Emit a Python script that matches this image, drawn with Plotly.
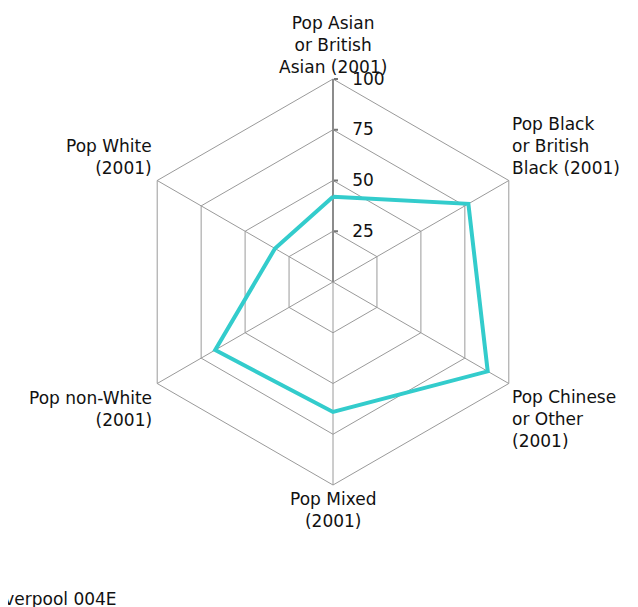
import math
import plotly.graph_objects as go

# ---- data ----
categories = [
    "Pop Asian or British Asian (2001)",
    "Pop Black or British Black (2001)",
    "Pop Chinese or Other (2001)",
    "Pop Mixed (2001)",
    "Pop non-White (2001)",
    "Pop White (2001)",
]
category_labels = [
    "Pop Asian<br>or British<br>Asian (2001)",
    "Pop Black<br>or British<br>Black (2001)",
    "Pop Chinese<br>or Other<br>(2001)",
    "Pop Mixed<br>(2001)",
    "Pop non-White<br>(2001)",
    "Pop White<br>(2001)",
]
series_name = "Liverpool 004E"
series_values = [42, 77, 88, 64, 67, 33]
radial_ticks = [25, 50, 75, 100]

# ---- layout geometry ----
W, H = 638, 607
OFF = 8                       # page (body) margin offset
CX, CY, R = 333 - OFF, 282 - OFF, 203  # centre in figure pixels (from top), radius

FONT = dict(family="DejaVu Sans", size=17, color="#111111")
GRID = "#9a9a9a"
LINE = "#33cccc"

fig = go.Figure()
fig.add_trace(go.Scatterpolar(
    r=series_values + series_values[:1],
    theta=categories + categories[:1],
    mode="lines",
    name=series_name,
    line=dict(color=LINE, width=4),
    showlegend=False,
    hoverinfo="skip",
))

fig.update_layout(
    width=W, height=H,
    margin=dict(l=0, r=0, t=0, b=0, autoexpand=False),
    paper_bgcolor="white",
    font=FONT,
    polar=dict(
        domain=dict(x=[(CX - R) / W, (CX + R) / W],
                    y=[(H - CY - R) / H, (H - CY + R) / H]),
        bgcolor="white",
        gridshape="linear",
        radialaxis=dict(
            range=[0, 100],
            tickvals=radial_ticks,
            ticktext=["\u00a0\u00a0" + str(v) for v in radial_ticks],
            angle=90,
            tickangle=90,
            side="clockwise",
            showline=True,
            linecolor="#8c8c8c",
            linewidth=2,
            gridcolor=GRID,
            gridwidth=1,
            ticks="outside",
            ticklen=4,
            tickwidth=2,
            tickcolor="#777777",
            tickfont=FONT,
            layer="below traces",
        ),
        angularaxis=dict(
            categoryorder="array",
            categoryarray=categories,
            rotation=90,
            direction="clockwise",
            showticklabels=False,
            ticks="",
            showline=True,
            linecolor=GRID,
            linewidth=1,
            gridcolor=GRID,
            gridwidth=1,
            layer="below traces",
        ),
    ),
)

# category labels placed at the hexagon vertices
anchors = [
    dict(xanchor="center", yanchor="bottom", align="center", xshift=0, yshift=0),
    dict(xanchor="left", yanchor="bottom", align="left", xshift=1, yshift=1),
    dict(xanchor="left", yanchor="top", align="left", xshift=1, yshift=-1),
    dict(xanchor="center", yanchor="top", align="center", xshift=0, yshift=-2),
    dict(xanchor="right", yanchor="top", align="right", xshift=-3, yshift=-2),
    dict(xanchor="right", yanchor="bottom", align="right", xshift=-3, yshift=1),
]
n = len(categories)
for i, (lab, a) in enumerate(zip(category_labels, anchors)):
    ang = math.radians(90 - 360 / n * i)
    px = CX + R * math.cos(ang)
    py = CY - R * math.sin(ang)
    fig.add_annotation(
        x=px / W, y=(H - py) / H, xref="paper", yref="paper",
        text=lab, showarrow=False, font=FONT, **a,
    )

# series name (partly cut at the left edge, as in the original)
fig.add_annotation(
    x=-20 / W, y=(H - 591) / H, xref="paper", yref="paper",
    text=series_name, showarrow=False, font=FONT,
    xanchor="left", yanchor="middle", align="left",
)

fig.write_html("out.html")
